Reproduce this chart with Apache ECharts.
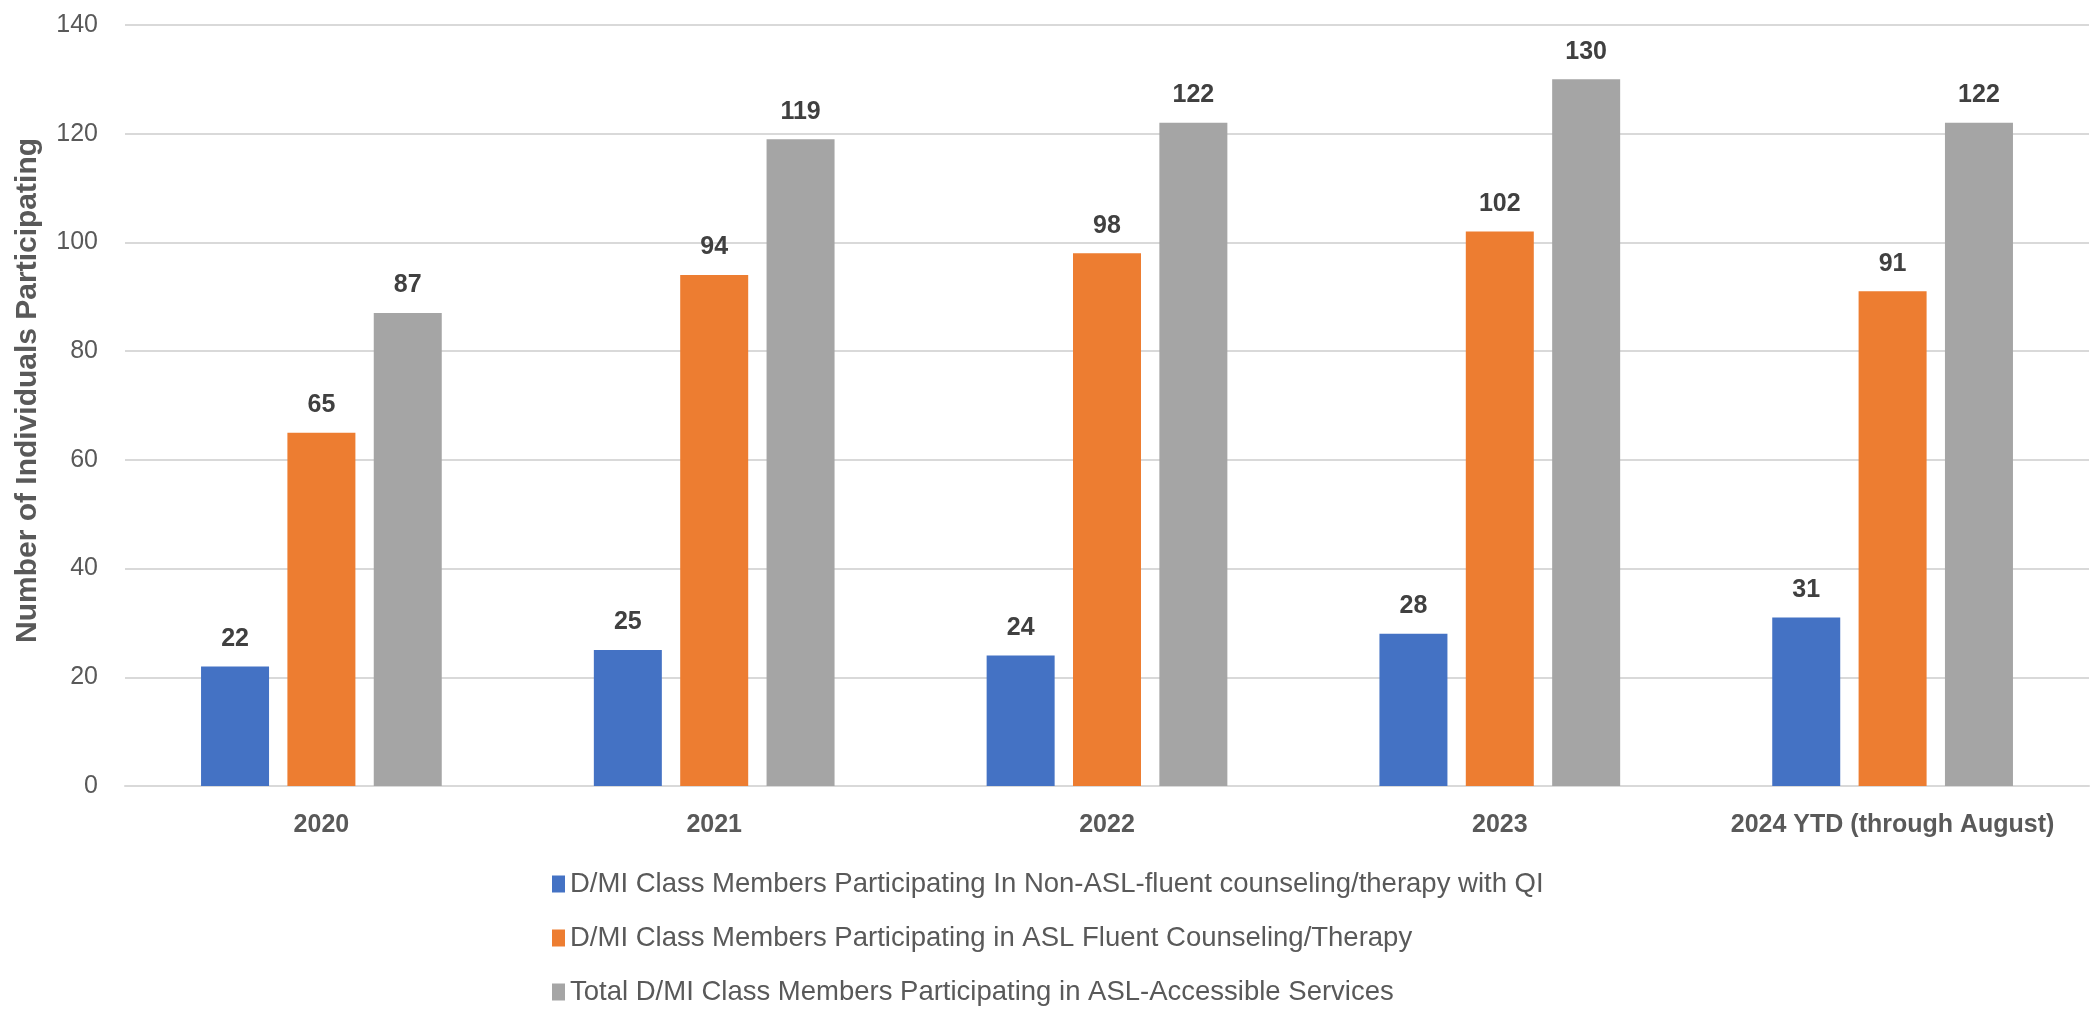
<!DOCTYPE html>
<html>
<head>
<meta charset="utf-8">
<script src="https://cdn.jsdelivr.net/npm/echarts@6/dist/echarts.min.js"></script>
<style>
  html, body { margin: 0; padding: 0; background: #fff; }
  #chart { width: 2093px; height: 1010px; }
</style>
</head>
<body>
<div id="chart"></div>
<script>
const years = ['2020', '2021', '2022', '2023', '2024 YTD (through August)'];
const nonAslQi = [22, 25, 24, 28, 31];
const aslFluent = [65, 94, 98, 102, 91];
const totalAccessible = [87, 119, 122, 130, 122];
const yTicks = { min: 0, max: 140, interval: 20 };

const seriesNames = [
  'D/MI Class Members Participating In Non-ASL-fluent counseling/therapy with QI',
  'D/MI Class Members Participating in ASL Fluent Counseling/Therapy',
  'Total D/MI Class Members Participating in ASL-Accessible Services'
];
const colors = ['#4472C4', '#ED7D31', '#A5A5A5'];
const font = '"Liberation Sans", Arial, sans-serif';

function barSeries(name, data, color) {
  return {
    name: name,
    type: 'bar',
    data: data,
    barWidth: 68,
    barGap: '27%',
    itemStyle: { color: color },
    label: {
      show: true,
      position: 'top',
      distance: 15,
      color: '#404040',
      fontFamily: font,
      fontWeight: 'bold',
      fontSize: 25
    }
  };
}

const chart = echarts.init(document.getElementById('chart'));
chart.setOption({
  animation: false,
  textStyle: { fontFamily: font },
  grid: { left: 125, right: 4, top: 25, bottom: 224, containLabel: false },
  legend: {
    orient: 'vertical',
    left: 552,
    top: 870,
    height: 300,
    padding: 0,
    itemWidth: 13,
    itemHeight: 17,
    itemGap: 26,
    icon: 'rect',
    textStyle: { color: '#595959', fontSize: 27.5, fontFamily: font },
    data: seriesNames
  },
  xAxis: {
    type: 'category',
    data: years,
    axisTick: { show: false },
    axisLine: { lineStyle: { color: '#D9D9D9', width: 2 } },
    axisLabel: {
      interval: 0,
      hideOverlap: false,
      color: '#595959',
      fontWeight: 'bold',
      fontSize: 25,
      margin: 27,
      fontFamily: font
    }
  },
  yAxis: {
    type: 'value',
    min: yTicks.min,
    max: yTicks.max,
    interval: yTicks.interval,
    name: 'Number of Individuals Participating',
    nameLocation: 'middle',
    nameGap: 82,
    nameTextStyle: {
      color: '#595959',
      fontWeight: 'bold',
      fontSize: 30,
      fontFamily: font,
      padding: [0, 0, 0, 30]
    },
    axisLabel: { color: '#595959', fontSize: 25, margin: 27, fontFamily: font },
    splitLine: { lineStyle: { color: '#D9D9D9', width: 2 } }
  },
  series: [
    barSeries(seriesNames[0], nonAslQi, colors[0]),
    barSeries(seriesNames[1], aslFluent, colors[1]),
    barSeries(seriesNames[2], totalAccessible, colors[2])
  ]
});
</script>
</body>
</html>
